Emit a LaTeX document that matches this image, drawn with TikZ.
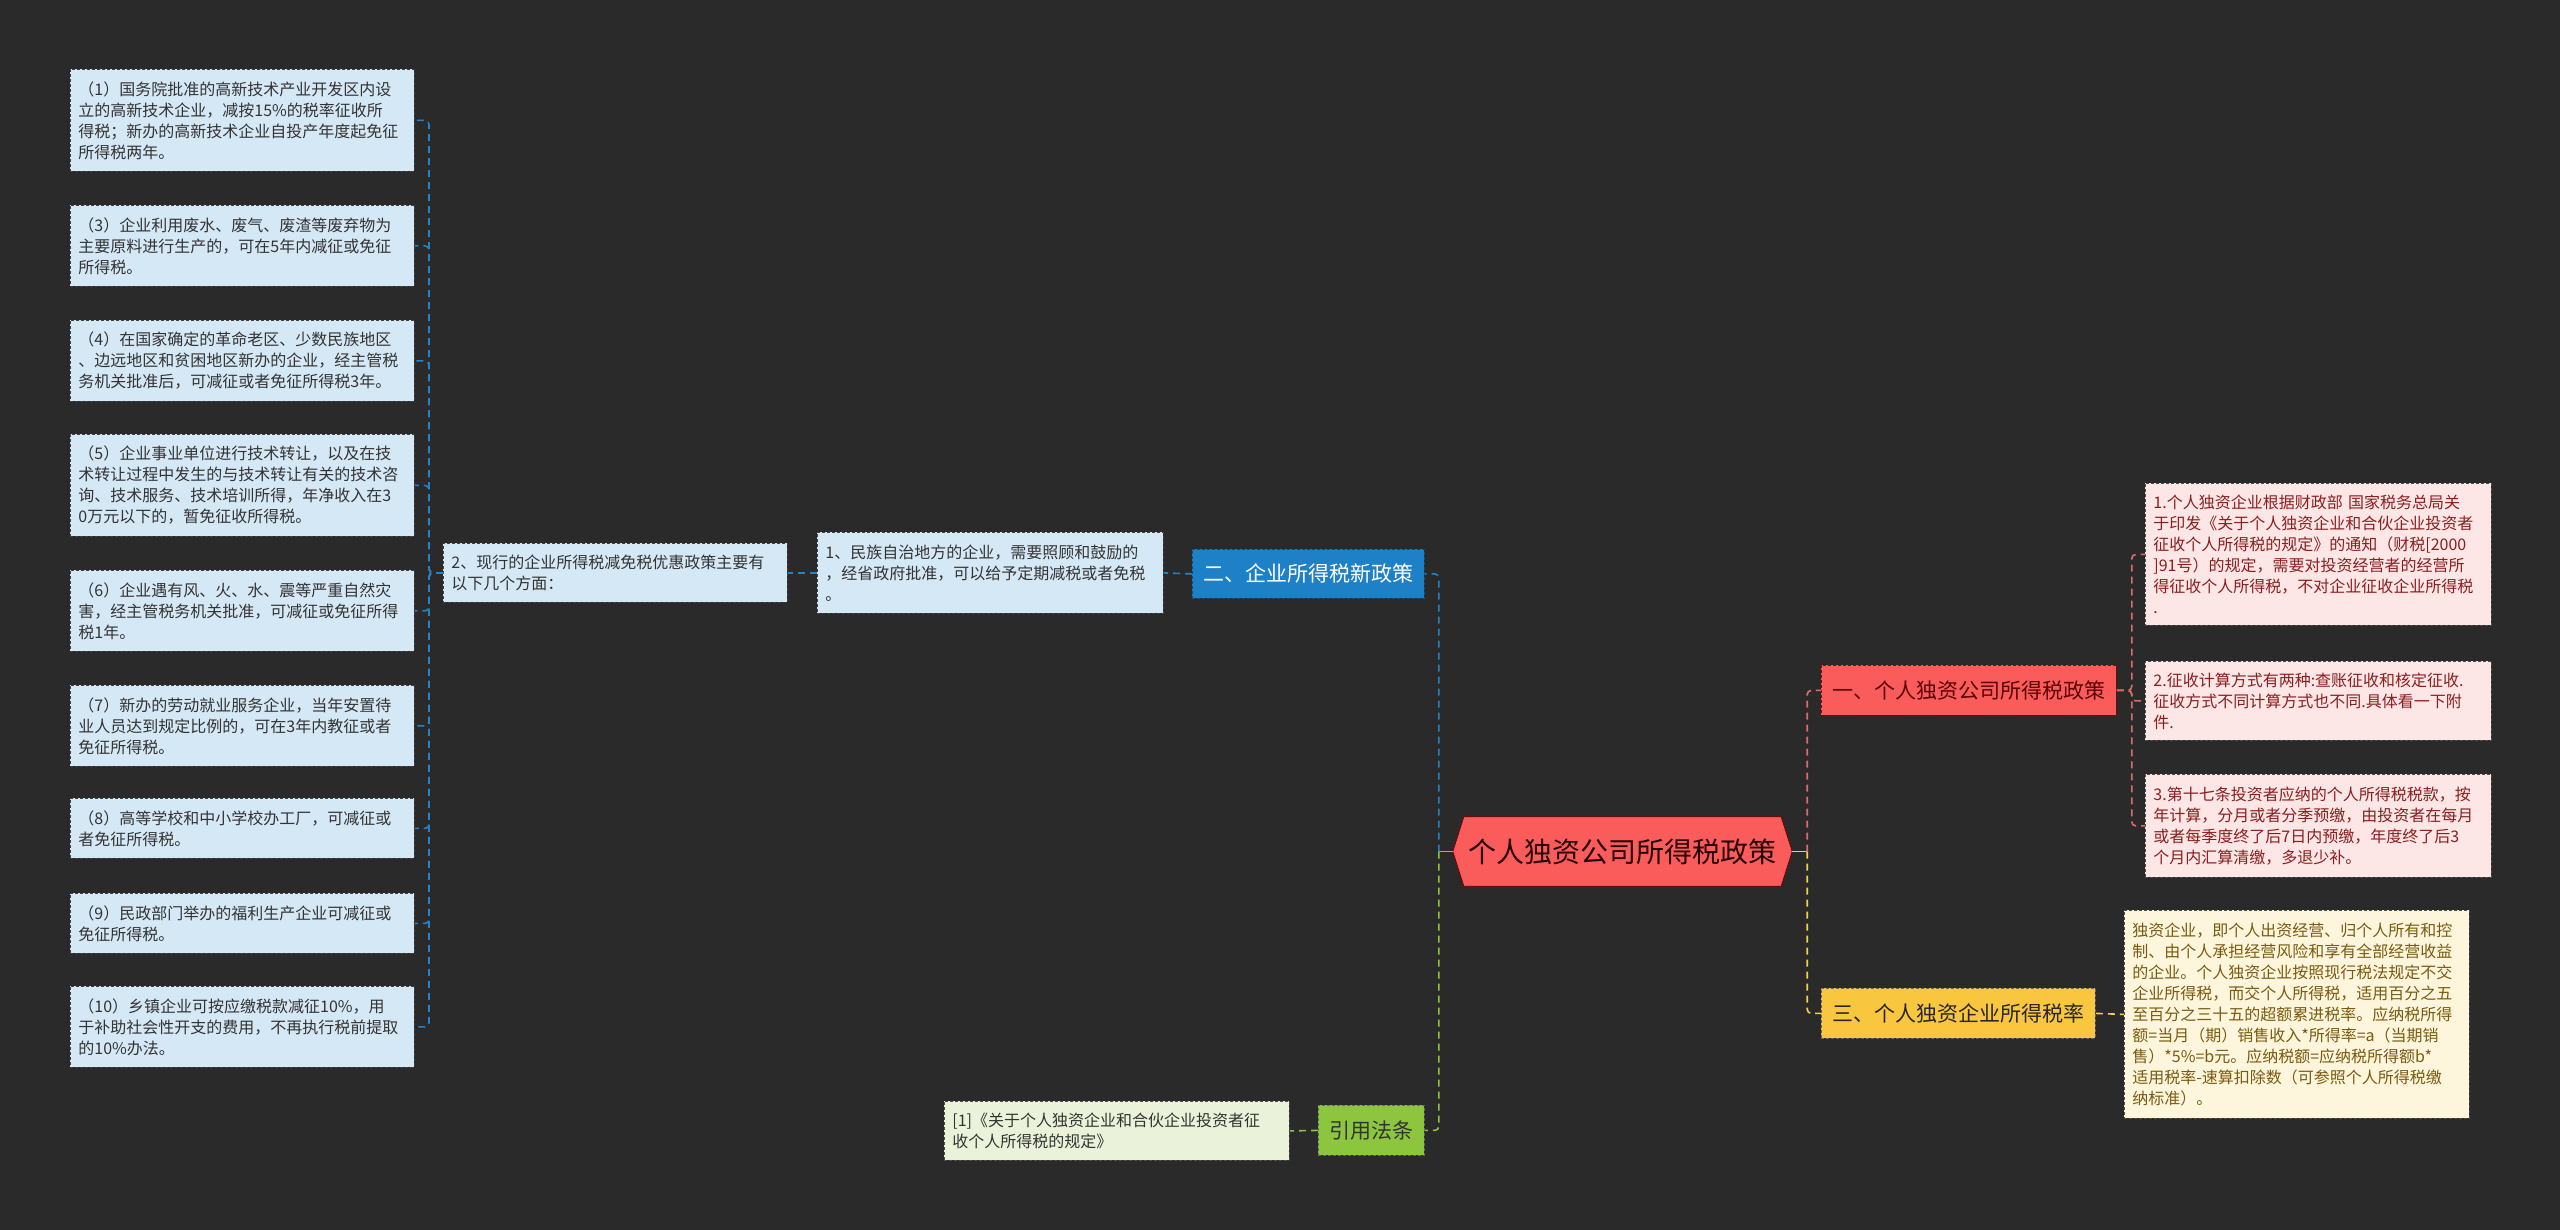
\documentclass[tikz,border=0pt]{standalone}
\usepackage{fontspec}
\setmainfont{Noto Sans CJK SC}
\usetikzlibrary{calc}
\definecolor{bg}{HTML}{2A2A2A}
\definecolor{lblue}{HTML}{D5E8F5}
\definecolor{mblue}{HTML}{1E80C6}
\definecolor{cblue}{HTML}{2383C8}
\definecolor{lpink}{HTML}{FDE6E6}
\definecolor{mpink}{HTML}{FA5C5C}
\definecolor{cpink}{HTML}{E36A6A}
\definecolor{tpink}{HTML}{8B1E1E}
\definecolor{lyel}{HTML}{FDF6DC}
\definecolor{myel}{HTML}{F9C63F}
\definecolor{cyel}{HTML}{F0D24A}
\definecolor{tyel}{HTML}{7A5A10}
\definecolor{lgreen}{HTML}{EAF3DA}
\definecolor{mgreen}{HTML}{8CC63F}
\definecolor{cgreen}{HTML}{8CC63F}
\pgfdeclarelayer{bgl}
\pgfsetlayers{bgl,main}
\tikzset{
  leaf/.style={draw=#1, dashed, dash pattern=on 3pt off 2pt, line width=0.8pt, rectangle, anchor=north west,
    inner xsep=8pt, inner ysep=0pt, align=left, font=\fontsize{16}{21}\selectfont},
  bleaf/.style={leaf={black!75}, fill=lblue, text=black!80},
  pleaf/.style={leaf={black!70}, fill=lpink, text=tpink},
  yleaf/.style={leaf={black!70}, fill=lyel, text=tyel},
  gleaf/.style={leaf={black!70}, fill=lgreen, text=black!80},
  topic/.style={rectangle, anchor=north west, dashed, dash pattern=on 3pt off 2pt, line width=0.8pt,
    inner sep=0pt, align=center, font=\fontsize{21}{24}\selectfont},
  conn/.style={draw=#1, line width=1.6pt, dash pattern=on 7pt off 5pt, rounded corners=4pt},
  stub/.style={draw=#1, line width=1.6pt},
}
\begin{document}
\begin{tikzpicture}[x=1pt,y=-1pt]
\begin{pgfonlayer}{bgl}
\fill[bg] (0,0) rectangle (2560,1230);
\end{pgfonlayer}
\useasboundingbox (0,0) rectangle (2560,1230);

% ---------- left column ----------
\node[bleaf, text width=328pt, minimum height=102pt] (a1) at (70,69) {（1）国务院批准的高新技术产业开发区内设\\立的高新技术企业，减按15\%的税率征收所\\得税；新办的高新技术企业自投产年度起免征\\所得税两年。};
\node[bleaf, text width=328pt, minimum height=81pt] (a3) at (70,205) {（3）企业利用废水、废气、废渣等废弃物为\\主要原料进行生产的，可在5年内减征或免征\\所得税。};
\node[bleaf, text width=328pt, minimum height=81pt] (a4) at (70,320) {（4）在国家确定的革命老区、少数民族地区\\、边远地区和贫困地区新办的企业，经主管税\\务机关批准后，可减征或者免征所得税3年。};
\node[bleaf, text width=328pt, minimum height=102pt] (a5) at (70,434) {（5）企业事业单位进行技术转让，以及在技\\术转让过程中发生的与技术转让有关的技术咨\\询、技术服务、技术培训所得，年净收入在3\\0万元以下的，暂免征收所得税。};
\node[bleaf, text width=328pt, minimum height=81pt] (a6) at (70,570) {（6）企业遇有风、火、水、震等严重自然灾\\害，经主管税务机关批准，可减征或免征所得\\税1年。};
\node[bleaf, text width=328pt, minimum height=81pt] (a7) at (70,685) {（7）新办的劳动就业服务企业，当年安置待\\业人员达到规定比例的，可在3年内教征或者\\免征所得税。};
\node[bleaf, text width=328pt, minimum height=60pt] (a8) at (70,798) {（8）高等学校和中小学校办工厂，可减征或\\者免征所得税。};
\node[bleaf, text width=328pt, minimum height=60pt] (a9) at (70,893) {（9）民政部门举办的福利生产企业可减征或\\免征所得税。};
\node[bleaf, text width=328pt, minimum height=81pt] (a10) at (70,986) {（10）乡镇企业可按应缴税款减征10\%，用\\于补助社会性开支的费用，不再执行税前提取\\的10\%办法。};

\node[bleaf, text width=328pt, minimum height=59pt] (b2) at (443,543) {2、现行的企业所得税减免税优惠政策主要有\\以下几个方面：};
\node[bleaf, text width=330pt, minimum height=81pt] (b1) at (817,532) {1、民族自治地方的企业，需要照顾和鼓励的\\，经省政府批准，可以给予定期减税或者免税\\。};

\node[topic, fill=mblue, draw=mblue!60!black, text=white, minimum width=232pt, minimum height=49pt] (t2) at (1192,549) {二、企业所得税新政策};

% ---------- center ----------
\node[minimum width=339pt, minimum height=69pt, inner sep=0pt, font=\fontsize{28}{32}\selectfont, text=black!85!red] (c) at (1622.5,851.5) {个人独资公司所得税政策};
\begin{pgfonlayer}{bgl}
\filldraw[fill=mpink, draw=red!45!black, line width=0.8pt] (c.west) -- ($(c.north west)+(11,0)$) -- ($(c.north east)+(-11,0)$) -- (c.east) -- ($(c.south east)+(-11,0)$) -- ($(c.south west)+(11,0)$) -- cycle;
\end{pgfonlayer}

% ---------- right side ----------
\node[topic, fill=mpink, draw=red!55!black, text=red!35!black, minimum width=295pt, minimum height=50pt] (t1) at (1821,665) {一、个人独资公司所得税政策};
\node[pleaf, text width=330pt, minimum height=142pt] (p1) at (2145,483) {1.个人独资企业根据财政部 国家税务总局关\\于印发《关于个人独资企业和合伙企业投资者\\征收个人所得税的规定》的通知（财税[2000\\]91号）的规定，需要对投资经营者的经营所\\得征收个人所得税，不对企业征收企业所得税\\.};
\node[pleaf, text width=330pt, minimum height=79pt] (p2) at (2145,661) {2.征收计算方式有两种:查账征收和核定征收.\\征收方式不同计算方式也不同.具体看一下附\\件.};
\node[pleaf, text width=330pt, minimum height=103pt] (p3) at (2145,774) {3.第十七条投资者应纳的个人所得税税款，按\\年计算，分月或者分季预缴，由投资者在每月\\或者每季度终了后7日内预缴，年度终了后3\\个月内汇算清缴，多退少补。};

\node[topic, fill=myel, draw=black!60, text=black!85, minimum width=274pt, minimum height=50pt] (t3) at (1821,988) {三、个人独资企业所得税率};
\node[yleaf, text width=329pt, minimum height=208pt] (y1) at (2124,910) {独资企业，即个人出资经营、归个人所有和控\\制、由个人承担经营风险和享有全部经营收益\\的企业。个人独资企业按照现行税法规定不交\\企业所得税，而交个人所得税，适用百分之五\\至百分之三十五的超额累进税率。应纳税所得\\额=当月（期）销售收入*所得率=a（当期销\\售）*5\%=b元。应纳税额=应纳税所得额b*\\适用税率-速算扣除数（可参照个人所得税缴\\纳标准）。};

\node[topic, fill=mgreen, draw=black!60, text=black!80, minimum width=106pt, minimum height=50pt] (t4) at (1318,1105) {引用法条};
\node[gleaf, text width=329pt, minimum height=59pt] (g1) at (944,1101) {[1]《关于个人独资企业和合伙企业投资者征\\收个人所得税的规定》};

% ---------- connectors ----------
\coordinate (cl) at ($(c.west)+(-14,0)$);
\coordinate (cr) at ($(c.east)+(15,0)$);
\draw[stub=cgreen] (c.west) -- (cl);
\draw[stub=cyel] (c.east) -- (cr);
\draw[conn=cblue] (cl) |- (t2.east);
\draw[conn=cgreen] (cl) |- (t4.east);
\draw[conn=cpink] (cr) |- (t1.west);
\draw[conn=cyel] (cr) |- (t3.west);

\draw[conn=cblue] (t2.west) -- (b1.east);
\draw[conn=cblue] (b1.west) -- (b2.east);
\coordinate (lt) at ($(b2.west)+(-14,0)$);
\foreach \n in {a1,a3,a4,a5,a6,a7,a8,a9,a10}{
  \draw[conn=cblue] (b2.west) -- (lt) |- (\n.east);
}

\coordinate (rt) at ($(t1.east)+(15,0)$);
\foreach \n in {p1,p2,p3}{
  \draw[conn=cpink] (t1.east) -- (rt) |- (\n.west);
}
\draw[conn=cyel] (t3.east) -- (y1.west);
\draw[conn=cgreen] (t4.west) -- (g1.east);
\end{tikzpicture}
\end{document}
